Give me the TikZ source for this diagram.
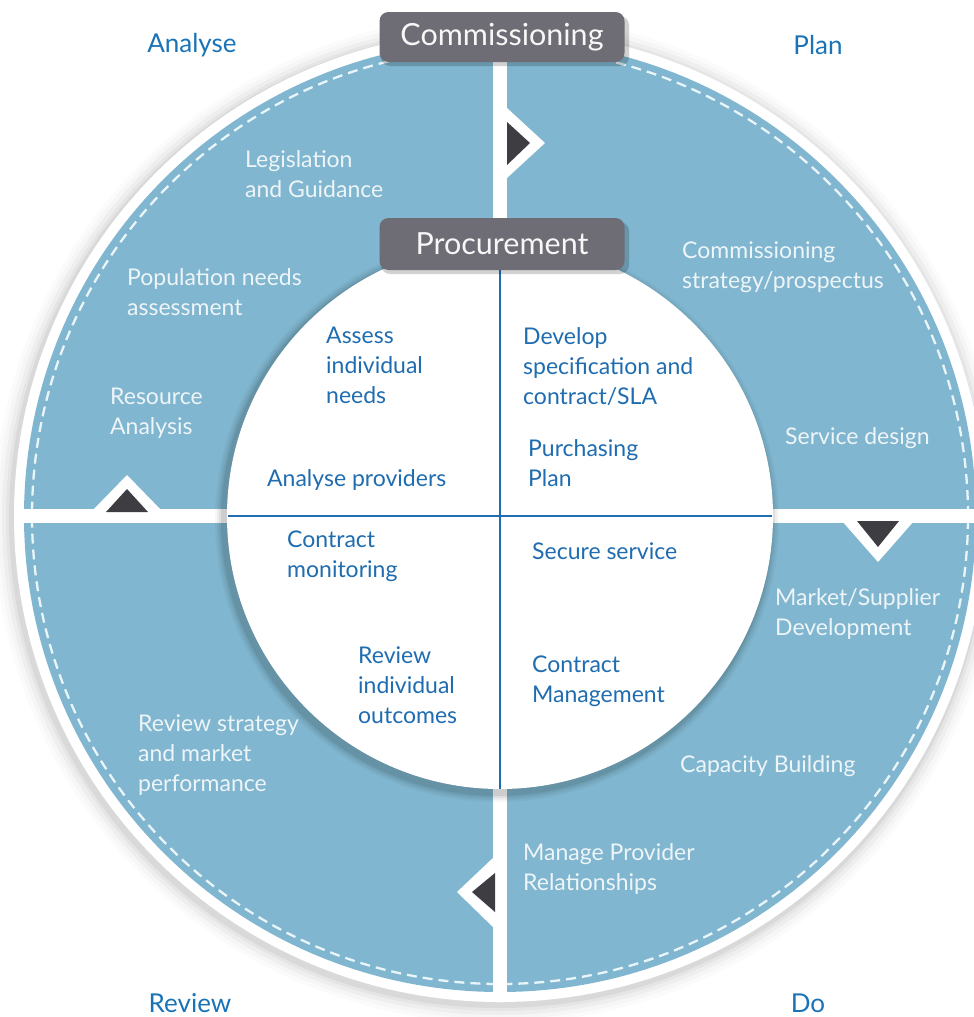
\documentclass[tikz,border=0pt]{standalone}
\usepackage{fontspec}
\setmainfont{Lato}
\definecolor{ringblue}{HTML}{80B6CF}
\definecolor{dashc}{HTML}{EAF5FA}
\definecolor{innerblue}{HTML}{1F6DB0}
\definecolor{labelblue}{HTML}{1A73B6}
\definecolor{boxgray}{HTML}{6E6C74}
\definecolor{marker}{HTML}{3E3E42}
\definecolor{ringtext}{HTML}{EEF5F8}
\tikzset{
  ringlabel/.style={anchor=north west, inner sep=0pt, align=left, text=ringtext, font=\fontsize{23}{30}\selectfont},
  innerlabel/.style={anchor=north west, inner sep=0pt, align=left, text=innerblue, font=\fontsize{23}{30}\selectfont},
  phase/.style={inner sep=0pt, text=labelblue, font=\fontsize{26}{30}\selectfont},
  headbox/.style={fill=boxgray, rounded corners=9pt, minimum width=245pt, minimum height=50pt, text=white!94!gray, font=\fontsize{30.5}{34}\selectfont},
  chevron/.style={fill=white},
  tip/.style={fill=marker}
}
\begin{document}
\begin{tikzpicture}[x=1pt,y=-1pt]
\useasboundingbox (0,0) rectangle (974,1017);
\coordinate (C) at (500,516);
% soft outer shadow
\foreach \r/\o in {504/0.015,500/0.02,496/0.03,492/0.04,489/0.05}
  \fill[black,opacity=\o] ([shift={(-2,3)}]C) circle (\r pt);
\fill[white] (C) circle (486pt);
\fill[ringblue] (C) circle (476pt);
\draw[dashc, line width=2.3pt, dash pattern=on 10pt off 6pt] (C) circle (468pt);
% white cross gaps
\begin{scope}
  \clip (C) circle (486pt);
  \fill[white] (493,25) rectangle (507,1005);
  \fill[white] (10,509) rectangle (990,523);
\end{scope}
% markers
\fill[chevron] (507,108) -- (545,143) -- (507,178) -- cycle;
\fill[tip] (507,122) -- (530,143) -- (507,165) -- cycle;
\fill[chevron] (91,512) -- (127,475) -- (163,512) -- cycle;
\fill[tip] (106,512) -- (127,489) -- (148,512) -- cycle;
\fill[chevron] (842,521) -- (878,562) -- (914,521) -- cycle;
\fill[tip] (857,521) -- (878,547) -- (899,521) -- cycle;
\fill[chevron] (495,856) -- (457,892) -- (495,929) -- cycle;
\fill[tip] (495,873) -- (472,892) -- (495,912) -- cycle;
% inner circle
\foreach \r/\o in {282/0.03,280/0.04,278/0.06,276/0.08}
  \fill[black,opacity=\o] ([shift={(-3,4)}]C) circle (\r pt);
\fill[white] (C) circle (273pt);
\draw[innerblue, line width=2.6pt] (500,268) -- (500,789);
\draw[innerblue, line width=2.6pt] (228,516) -- (772,516);
% header boxes
\fill[black,opacity=0.18,rounded corners=9pt] (381,16) rectangle (629,66);
\node[headbox] (comm) at (502,37) {Commissioning};
\fill[black,opacity=0.18,rounded corners=9pt] (381,222) rectangle (629,274);
\node[headbox, minimum height=52pt] (proc) at (502,244) {Procurement};
% phase labels
\node[phase] (analyse) at (192,45) {Analyse};
\node[phase] (plan) at (818,45) {Plan};
\node[phase] (review) at (190,1003) {Review};
\node[phase] (do) at (808,1003) {Do};
% ring labels
\node[ringlabel] (leg) at (245,150) {Legislation\\and Guidance};
\node[ringlabel] (pop) at (127,268) {Population needs\\assessment};
\node[ringlabel] (res) at (110,388) {Resource\\Analysis};
\node[ringlabel] (strat) at (682,242) {Commissioning\\strategy/prospectus};
\node[ringlabel] (serv) at (785,427) {Service design};
\node[ringlabel] (mkt) at (775,588) {Market/Supplier\\Development};
\node[ringlabel] (cap) at (680,755) {Capacity Building};
\node[ringlabel] (mpr) at (523,843) {Manage Provider\\Relationships};
\node[ringlabel] (rsm) at (138,715) {Review strategy\\and market\\performance};
% inner labels
\node[innerlabel] (ain) at (326,327) {Assess\\individual\\needs};
\node[innerlabel] (ap) at (267,469) {Analyse providers};
\node[innerlabel] (dev) at (523,327) {Develop\\specification and\\contract/SLA};
\node[innerlabel] (pp) at (528,439) {Purchasing\\Plan};
\node[innerlabel] (cm) at (287,531) {Contract\\monitoring};
\node[innerlabel] (ss) at (532,543) {Secure service};
\node[innerlabel] (rio) at (358,647) {Review\\individual\\outcomes};
\node[innerlabel] (cmg) at (532,656) {Contract\\Management};
\end{tikzpicture}
\end{document}
